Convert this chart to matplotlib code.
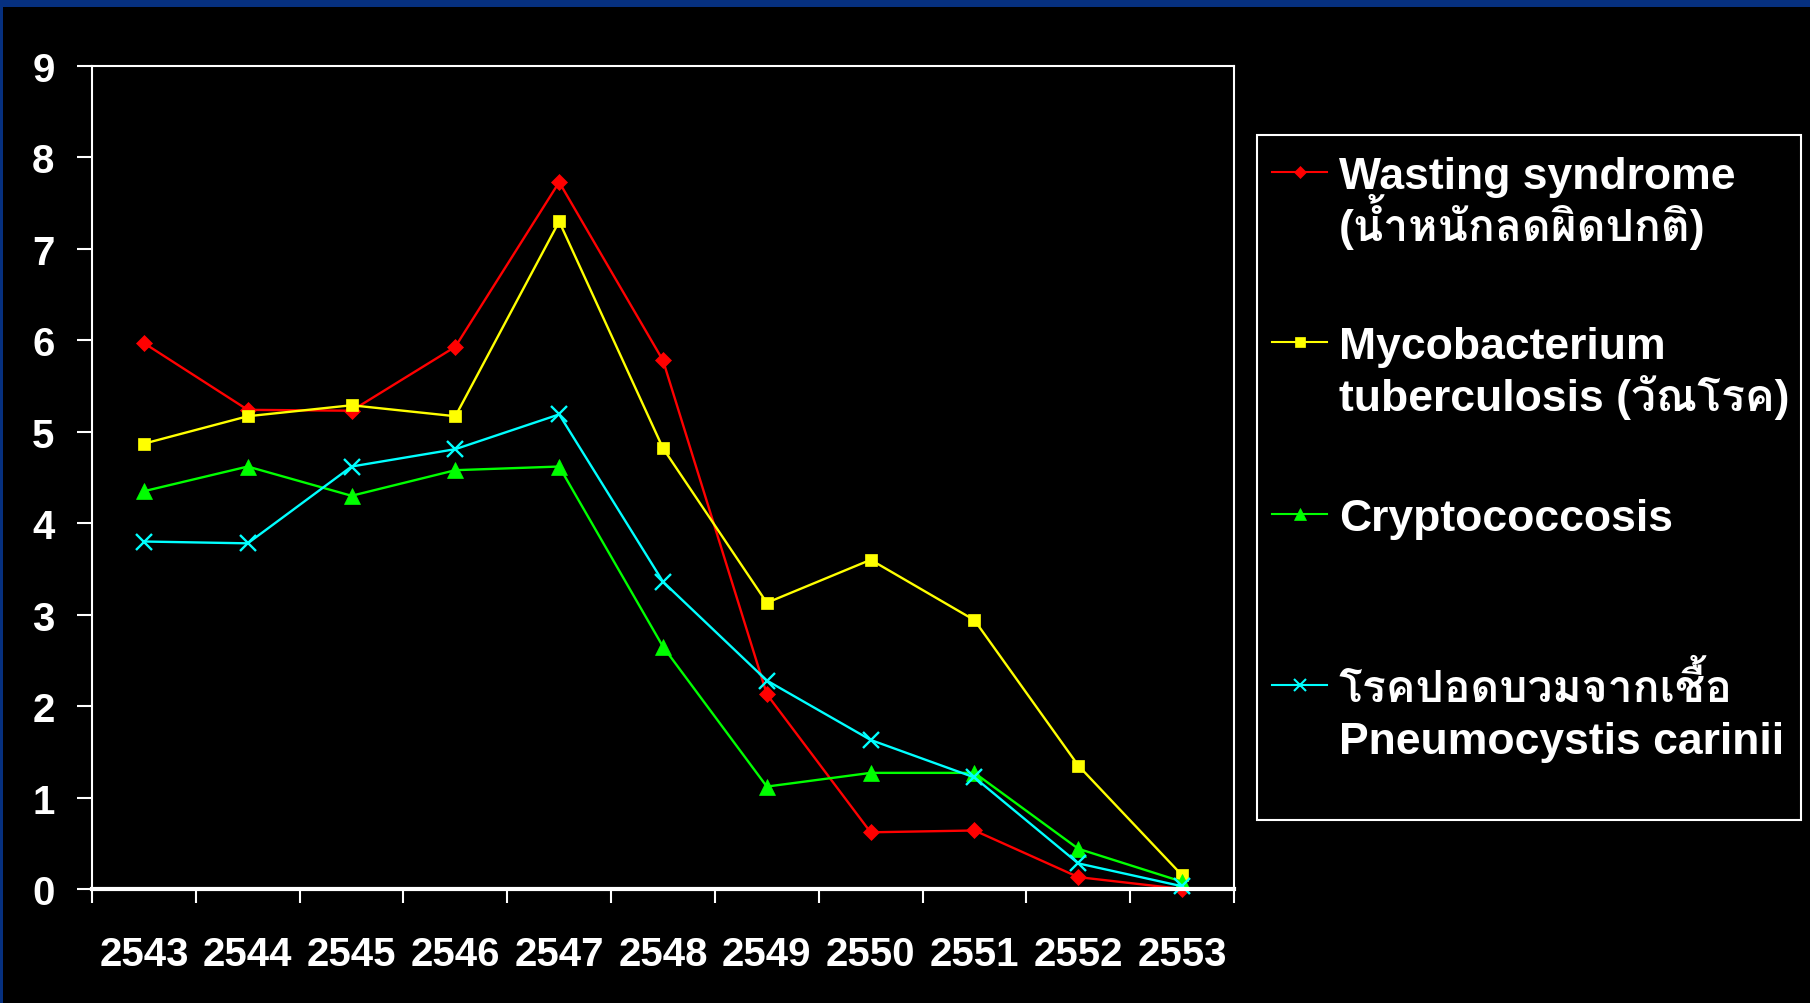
import matplotlib
matplotlib.use("Agg")
import matplotlib.pyplot as plt
from matplotlib import font_manager
from matplotlib.ft2font import FT2Font
from matplotlib.lines import Line2D
from matplotlib.patches import Rectangle

years = ["2543", "2544", "2545", "2546", "2547", "2548", "2549", "2550", "2551", "2552", "2553"]
wasting = [5.97, 5.24, 5.23, 5.93, 7.73, 5.78, 2.13, 0.62, 0.64, 0.13, 0.0]
tb = [4.87, 5.17, 5.29, 5.17, 7.30, 4.82, 3.13, 3.60, 2.94, 1.35, 0.15]
crypto = [4.35, 4.62, 4.30, 4.58, 4.62, 2.65, 1.12, 1.27, 1.27, 0.44, 0.08]
pcp = [3.80, 3.78, 4.62, 4.81, 5.19, 3.36, 2.28, 1.63, 1.22, 0.28, 0.03]

labels = [
    ["Wasting syndrome", "(น้ำหนักลดผิดปกติ)"],
    ["Mycobacterium", "tuberculosis (วัณโรค)"],
    ["Cryptococcosis"],
    ["โรคปอดบวมจากเชื้อ", "Pneumocystis carinii"],
]


def thai_family():
    # first installed font that has Thai glyphs, if any
    for f in font_manager.fontManager.ttflist:
        try:
            cmap = FT2Font(f.fname).get_charmap()
        except Exception:
            continue
        if 0x0E01 in cmap and 0x0E49 in cmap:
            return f.name
    return None


fam = ["Liberation Sans"]
th = thai_family()
if th:
    fam.append(th)
fam.append("DejaVu Sans")

W, H = 1810, 1004
fig = plt.figure(figsize=(W / 100, H / 100), dpi=100, facecolor="black")

# blue frame along top and left edges
fig.add_artist(Rectangle((0, 1 - 8 / H), 1, 8 / H, transform=fig.transFigure,
                         color="#06307f", lw=0))
fig.add_artist(Rectangle((0, 0), 3 / W, 1, transform=fig.transFigure,
                         color="#06307f", lw=0))

ax = fig.add_axes([92 / W, 1 - 890 / H, (1234 - 92) / W, (890 - 67) / H])
ax.set_facecolor("black")

x = list(range(len(years)))
series = [
    (wasting, "#ff0000", "D", 8),
    (tb, "#ffff00", "s", 9),
    (crypto, "#00ff00", "^", 11),
    (pcp, "#00ffff", "x", 11),
]
for vals, col, mk, ms in series:
    ax.plot(x, vals, color=col, lw=1.7, marker=mk, markersize=ms,
            markeredgewidth=1.7 if mk == "x" else 0.5, markeredgecolor=col,
            clip_on=False)

ax.set_xlim(-0.5, len(years) - 0.5)
ax.set_ylim(0, 9)
ax.set_yticks(range(10))
ax.set_xticks([i - 0.5 for i in range(len(years) + 1)])
ax.set_xticklabels([])
ax.set_xticks(x, minor=True)
ax.set_xticklabels(years, minor=True)

for s in ax.spines.values():
    s.set_color("white")
    s.set_linewidth(1.5)
ax.spines["bottom"].set_linewidth(3)

ax.tick_params(axis="y", colors="white", direction="out", length=11, width=1.5, pad=16)
ax.tick_params(axis="x", which="major", colors="white", direction="out", length=10, width=1.5)
ax.tick_params(axis="x", which="minor", colors="white", length=0, pad=33)

for lab in ax.get_yticklabels() + ax.get_xticklabels(minor=True):
    lab.set_fontfamily("Liberation Sans")
    lab.set_fontweight("bold")
    lab.set_fontsize(29)
    lab.set_color("white")

# legend box drawn by hand so each marker sits at the first line of its entry
fig.add_artist(Rectangle((1257 / W, 1 - 821 / H), (1801 - 1257) / W, (821 - 136) / H,
                         transform=fig.transFigure, facecolor="black",
                         edgecolor="white", lw=1.5))
rows = [173, 343, 515, 686]
for (vals, col, mk, ms), lines, yr in zip(series, labels, rows):
    yf = 1 - yr / H
    fig.add_artist(Line2D([1272 / W, 1327 / W], [yf, yf], transform=fig.transFigure,
                          color=col, lw=1.5))
    fig.add_artist(Line2D([1300 / W], [yf], transform=fig.transFigure, color=col,
                          marker=mk, markersize=ms - 2, markeredgecolor=col,
                          markeredgewidth=1.5 if mk == "x" else 0.5))
    for k, txt in enumerate(lines):
        base = yr + 16 + k * 52
        fig.text(1339 / W, 1 - base / H, txt, color="white", fontsize=32,
                 fontweight="bold", family=fam, va="baseline", ha="left")

fig.savefig("out.png", dpi=100, facecolor="black")
